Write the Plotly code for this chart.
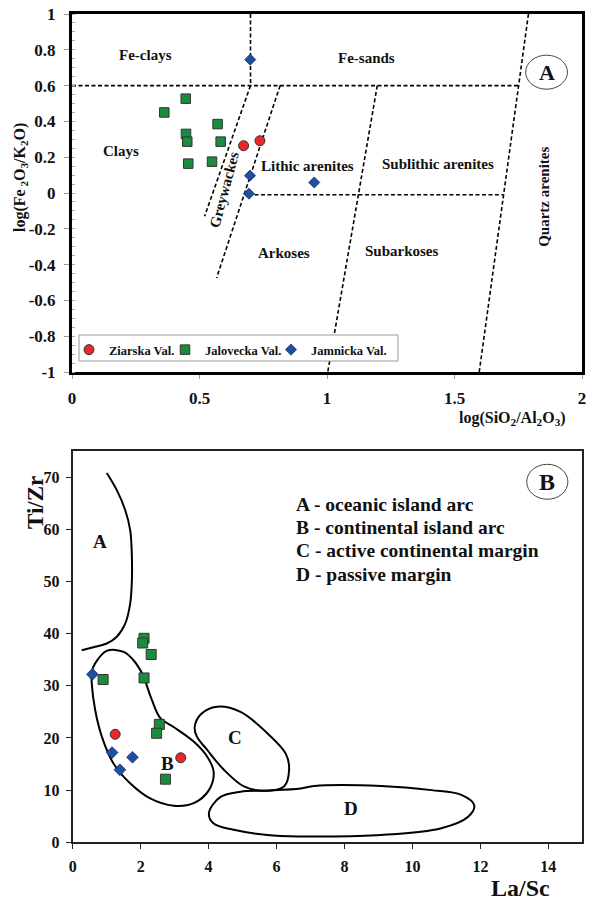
import plotly.graph_objects as go

# ---------------- Panel A data ----------------
top_ziarska_x = [0.673, 0.737]
top_ziarska_y = [0.264, 0.292]
top_jalovecka_x = [0.446, 0.362, 0.571, 0.447, 0.452, 0.583, 0.456, 0.549]
top_jalovecka_y = [0.527, 0.450, 0.385, 0.330, 0.287, 0.287, 0.164, 0.175]
top_jamnicka_x = [0.699, 0.698, 0.694, 0.950]
top_jamnicka_y = [0.745, 0.097, -0.004, 0.059]

# classification boundaries (Herron 1988)
bnd_fe_x, bnd_fe_y = [0.0, 1.751], [0.6, 0.6]
bnd_vert_x, bnd_vert_y = [0.70, 0.70], [1.0, 0.6]
bnd_grey1_x, bnd_grey1_y = [0.70, 0.52], [0.6, -0.13]
bnd_grey2_x, bnd_grey2_y = [0.816, 0.567], [0.6, -0.475]
bnd_zero_x, bnd_zero_y = [0.69, 1.692], [-0.01, -0.01]
bnd_sub_x, bnd_sub_y = [1.197, 1.003], [0.6, -1.0]
bnd_qtz_x, bnd_qtz_y = [1.79, 1.597], [1.0, -1.0]

top_labels = ["Fe-clays", "Fe-sands", "Clays", "Lithic arenites", "Sublithic arenites",
              "Arkoses", "Subarkoses"]
top_labels_x = [0.289, 1.153, 0.191, 0.923, 1.434, 0.833, 1.295]
top_labels_y = [0.773, 0.754, 0.232, 0.149, 0.163, -0.335, -0.326]

# ---------------- Panel B data ----------------
bot_ziarska_x = [1.25, 3.18]
bot_ziarska_y = [20.7, 16.2]
bot_jalovecka_x = [0.895, 2.10, 2.55, 2.47, 2.73, 2.10, 2.06, 2.31]
bot_jalovecka_y = [31.2, 31.5, 22.6, 20.9, 12.1, 39.1, 38.2, 36.0]
bot_jamnicka_x = [0.58, 1.16, 1.39, 1.76]
bot_jamnicka_y = [32.2, 17.2, 13.9, 16.3]

fieldA_x = [1.003, 1.299, 1.545, 1.693, 1.742, 1.742, 1.693, 1.545, 1.299, 1.003, 0.61, 0.265]
fieldA_y = [70.8, 67.5, 63.7, 59.8, 54.7, 50.2, 45.8, 41.9, 39.4, 38.1, 37.4, 36.8]
fieldB_x = [0.56, 0.66, 1.0, 1.5, 1.79, 1.99, 2.09, 2.33, 2.58, 2.97, 3.56, 3.96, 4.15, 4.01,
            3.56, 2.97, 2.28, 1.69, 1.20, 0.86, 0.66, 0.56, 0.56]
fieldB_y = [32.7, 34.3, 36.7, 36.5, 34.9, 33.0, 31.7, 27.3, 23.8, 22.1, 19.3, 16.4, 13.5, 10.0,
            7.5, 7.0, 8.4, 11.3, 15.1, 20.2, 25.4, 30.5, 32.7]
fieldC_x = [3.59, 3.78, 4.25, 4.94, 5.73, 6.27, 6.37, 6.22, 5.63, 5.04, 4.45, 3.96, 3.66, 3.59]
fieldC_y = [22.1, 24.6, 26.0, 25.0, 20.9, 17.0, 13.9, 10.7, 9.9, 10.7, 13.9, 17.7, 20.2, 22.1]
fieldD_x = [4.01, 4.35, 4.94, 5.73, 6.71, 7.11, 9.08, 10.56, 11.44, 11.82, 11.64, 10.85, 9.08,
            7.11, 6.71, 5.73, 4.74, 4.15, 4.01]
fieldD_y = [5.6, 8.7, 9.7, 9.9, 10.3, 10.8, 10.8, 10.0, 9.1, 7.1, 4.9, 2.7, 1.4,
            1.1, 1.1, 1.4, 2.4, 3.6, 5.6]

bot_labels = ["A", "B", "C", "D"]
bot_labels_x = [0.79, 2.79, 4.79, 8.19]
bot_labels_y = [57.6, 15.1, 20.1, 6.5]

key_lines = ["A - oceanic island arc", "B - continental island arc",
             "C - active continental margin", "D - passive margin"]

# ---------------- styling ----------------
SERIF = "Liberation Serif"
RED, GREEN, BLUE = "#E8282B", "#1A8C3F", "#1F4FA0"
OUT = "#333333"
W, H = 594, 900

fig = go.Figure()

def dashed(x, y):
    fig.add_trace(go.Scatter(x=x, y=y, mode="lines", xaxis="x", yaxis="y", showlegend=False,
                             hoverinfo="skip",
                             line=dict(color="black", width=1.6, dash="4px,2.5px")))

for bx, by in [(bnd_fe_x, bnd_fe_y), (bnd_vert_x, bnd_vert_y), (bnd_grey1_x, bnd_grey1_y),
               (bnd_grey2_x, bnd_grey2_y), (bnd_zero_x, bnd_zero_y), (bnd_sub_x, bnd_sub_y),
               (bnd_qtz_x, bnd_qtz_y)]:
    dashed(bx, by)

fig.add_trace(go.Scatter(x=top_ziarska_x, y=top_ziarska_y, mode="markers", name="Ziarska Val.",
                         xaxis="x", yaxis="y", legend="legend",
                         marker=dict(symbol="circle", size=10, color=RED, line=dict(color=OUT, width=1))))
fig.add_trace(go.Scatter(x=top_jalovecka_x, y=top_jalovecka_y, mode="markers", name="Jalovecka Val.",
                         xaxis="x", yaxis="y", legend="legend2",
                         marker=dict(symbol="square", size=9.5, color=GREEN, line=dict(color=OUT, width=1))))
fig.add_trace(go.Scatter(x=top_jamnicka_x, y=top_jamnicka_y, mode="markers", name="Jamnicka Val.",
                         xaxis="x", yaxis="y", legend="legend3",
                         marker=dict(symbol="diamond", size=8.5, color=BLUE, line=dict(color="#1a2f66", width=0.8))))

# Panel B fields
for fx, fy in [(fieldA_x, fieldA_y), (fieldB_x, fieldB_y), (fieldC_x, fieldC_y), (fieldD_x, fieldD_y)]:
    fig.add_trace(go.Scatter(x=fx, y=fy, mode="lines", xaxis="x2", yaxis="y2", showlegend=False,
                             hoverinfo="skip", line=dict(color="black", width=2, shape="spline", smoothing=1.0)))

fig.add_trace(go.Scatter(x=bot_ziarska_x, y=bot_ziarska_y, mode="markers", name="Ziarska Val.",
                         xaxis="x2", yaxis="y2", showlegend=False,
                         marker=dict(symbol="circle", size=10, color=RED, line=dict(color=OUT, width=1))))
fig.add_trace(go.Scatter(x=bot_jalovecka_x, y=bot_jalovecka_y, mode="markers", name="Jalovecka Val.",
                         xaxis="x2", yaxis="y2", showlegend=False,
                         marker=dict(symbol="square", size=10, color=GREEN, line=dict(color=OUT, width=1))))
fig.add_trace(go.Scatter(x=bot_jamnicka_x, y=bot_jamnicka_y, mode="markers", name="Jamnicka Val.",
                         xaxis="x2", yaxis="y2", showlegend=False,
                         marker=dict(symbol="diamond", size=9, color=BLUE, line=dict(color="#1a2f66", width=0.8))))

ann = []
lab_font = dict(family=SERIF, size=15, color="#111", weight="bold")
for t, x, y in zip(top_labels, top_labels_x, top_labels_y):
    ann.append(dict(text=t, x=x, y=y, xref="x", yref="y", showarrow=False, font=lab_font,
                    xanchor="center", yanchor="middle"))
ann.append(dict(text="Greywackes", x=0.596, y=0.018, xref="x", yref="y", showarrow=False,
                textangle=-75, font=lab_font, xanchor="center", yanchor="middle"))
ann.append(dict(text="Quartz arenites", x=1.848, y=-0.02, xref="x", yref="y", showarrow=False,
                textangle=-90, font=lab_font, xanchor="center", yanchor="middle"))
ann.append(dict(text="A", x=1.861, y=0.675, xref="x", yref="y", showarrow=False,
                xanchor="center", yanchor="middle",
                font=dict(family=SERIF, size=22, color="#111", weight="bold")))

for t, x, y in zip(bot_labels, bot_labels_x, bot_labels_y):
    ann.append(dict(text=t, x=x, y=y, xref="x2", yref="y2", showarrow=False,
                    xanchor="center", yanchor="middle",
                    font=dict(family=SERIF, size=19, color="#111", weight="bold")))
key_y = [64.8, 60.3, 55.9, 51.4]
for t, y in zip(key_lines, key_y):
    ann.append(dict(text=t, x=6.52, y=y, xref="x2", yref="y2", showarrow=False, xanchor="left",
                    yanchor="middle", font=dict(family=SERIF, size=19.5, color="#111", weight="bold")))
ann.append(dict(text="B", x=13.97, y=69.1, xref="x2", yref="y2", showarrow=False,
                xanchor="center", yanchor="middle",
                font=dict(family=SERIF, size=24, color="#111", weight="bold")))

# axis titles
ann.append(dict(text="log(Fe<sub> 2</sub>O<sub>3</sub>/K<sub>2</sub>O)", x=20 / W, y=1 - 178 / H,
                xref="paper", yref="paper", showarrow=False, textangle=-90,
                xanchor="center", yanchor="middle",
                font=dict(family=SERIF, size=16, color="#111", weight="bold")))
ann.append(dict(text="log(SiO<sub>2</sub>/Al<sub>2</sub>O<sub>3</sub>)", x=512 / W, y=1 - 418 / H,
                xref="paper", yref="paper", showarrow=False, xanchor="center", yanchor="middle",
                font=dict(family=SERIF, size=16, color="#111", weight="bold")))
ann.append(dict(text="Ti/Zr", x=35 / W, y=1 - 503 / H, xref="paper", yref="paper", showarrow=False,
                textangle=-90, xanchor="center", yanchor="middle",
                font=dict(family=SERIF, size=23, color="#111", weight="bold")))
ann.append(dict(text="La/Sc", x=520 / W, y=1 - 888 / H, xref="paper", yref="paper", showarrow=False,
                xanchor="center", yanchor="middle",
                font=dict(family=SERIF, size=24, color="#111", weight="bold")))

shapes = [
    dict(type="circle", xref="x", yref="y", x0=1.861 - 0.082, x1=1.861 + 0.082,
         y0=0.675 - 0.095, y1=0.675 + 0.095, line=dict(color="#444", width=1)),
    dict(type="circle", xref="x2", yref="y2", x0=13.97 - 0.606, x1=13.97 + 0.606,
         y0=69.1 - 3.35, y1=69.1 + 3.35, line=dict(color="#444", width=1)),
    # legend frame
    dict(type="rect", xref="paper", yref="paper", x0=79 / W, x1=398 / W, y0=1 - 361 / H, y1=1 - 335 / H,
         line=dict(color="#999", width=1), fillcolor="white", layer="above"),
]

leg_font = dict(family=SERIF, size=12.5, color="#111", weight="bold")
def leg(xpx):
    return dict(orientation="h", x=xpx / W, y=1 - 335 / H, xanchor="left", yanchor="top",
                bgcolor="rgba(0,0,0,0)", borderwidth=0, font=leg_font, itemwidth=30)

tick_font = dict(family=SERIF, size=17, color="#111", weight="bold")
tick_font2 = dict(family=SERIF, size=16, color="#111", weight="bold")
fig.update_layout(
    width=W, height=H,
    margin=dict(l=0, r=0, t=0, b=0, autoexpand=False),
    paper_bgcolor="white", plot_bgcolor="white",
    showlegend=True,
    legend=leg(69), legend2=leg(165), legend3=leg(271),
    xaxis=dict(domain=[72 / W, 582 / W], anchor="y", range=[0, 2], tickvals=[0, 0.5, 1, 1.5, 2],
               ticktext=["0", "0.5", "1", "1.5", "2"], showgrid=False, zeroline=False, automargin=False,
               showline=True, linecolor="black", linewidth=3, mirror=True,
               ticks="outside", ticklen=4, tickcolor="#999", tickfont=tick_font, ticklabelstandoff=5),
    yaxis=dict(domain=[1 - 372 / H, 1 - 14 / H], anchor="x", range=[-1, 1], automargin=False,
               tickvals=[-1, -0.8, -0.6, -0.4, -0.2, 0, 0.2, 0.4, 0.6, 0.8, 1],
               ticktext=["-1", "-0.8", "-0.6", "-0.4", "-0.2", "0", "0.2", "0.4", "0.6", "0.8", "1"],
               showgrid=False, zeroline=False, showline=True, linecolor="black", linewidth=3, mirror=True,
               ticks="outside", ticklen=5, tickcolor="#999", tickfont=tick_font, ticklabelstandoff=5,
               minor=dict(ticks="inside", ticklen=3, dtick=0.05, tickcolor="#aaa")),
    xaxis2=dict(domain=[72.7 / W, 582.3 / W], anchor="y2", range=[0, 15], automargin=False,
                tickvals=[0, 2, 4, 6, 8, 10, 12, 14], showgrid=False, zeroline=False,
                showline=True, linecolor="#222", linewidth=1.8, mirror=True,
                ticks="outside", ticklen=5, tickcolor="#222", tickfont=tick_font2, ticklabelstandoff=4),
    yaxis2=dict(domain=[1 - 842.3 / H, 1 - 451 / H], anchor="x2", range=[0, 75], automargin=False,
                tickvals=[0, 10, 20, 30, 40, 50, 60, 70], showgrid=False, zeroline=False,
                showline=True, linecolor="#222", linewidth=1.8, mirror=True,
                ticks="outside", ticklen=5, tickcolor="#222", tickfont=tick_font2, ticklabelstandoff=3),
    annotations=ann,
    shapes=shapes,
)

fig.write_html("out.html", config={"displayModeBar": False},
               post_script="document.body.style.margin='0';document.body.style.overflow='hidden';")
